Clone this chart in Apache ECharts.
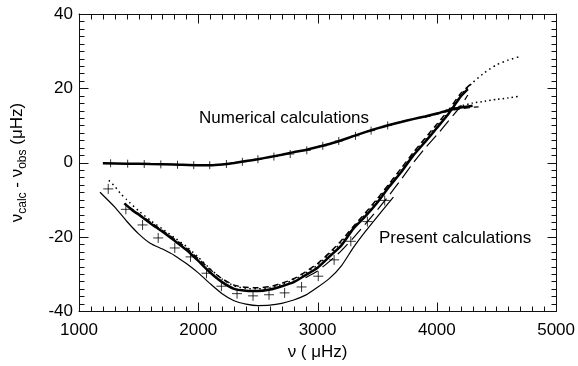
<!DOCTYPE html>
<html>
<head>
<meta charset="utf-8">
<script src="https://cdn.jsdelivr.net/npm/echarts@6/dist/echarts.min.js"></script>
<style>
  html, body { margin: 0; padding: 0; background: #fff; }
  #main { width: 578px; height: 366px; }
</style>
</head>
<body>
<div id="main"></div>
<script>
// numerical calculations (upper, nearly flat curve)
const numX = [1200, 1400, 1600, 1800, 2000, 2100, 2200, 2300, 2400, 2500, 2600, 2700, 2800, 2900, 3000, 3100, 3200, 3300, 3400, 3500, 3600, 3700, 3800, 3900, 4000, 4100, 4200, 4300];
const numY = [-0.2, -0.3, -0.4, -0.5, -0.7, -0.7, -0.5, -0.1, 0.4, 0.9, 1.5, 2.1, 2.8, 3.4, 4.2, 5.0, 6.0, 7.1, 8.2, 9.2, 10.1, 10.9, 11.7, 12.4, 13.2, 14.1, 14.8, 15.3];
const numDashX = [3900, 4000, 4100, 4200, 4280, 4350];
const numDashY = [12.2, 13.0, 13.9, 14.5, 14.8, 15.0];
const numDotX = [4000, 4100, 4200, 4300, 4400, 4500, 4600, 4680];
const numDotY = [13.3, 14.3, 15.2, 16.0, 16.5, 17.0, 17.4, 17.8];
const numCrossX = [1265, 1408, 1547, 1686, 1826, 1962, 2096, 2236, 2370, 2500, 2634, 2771, 2910, 3044, 3178, 3318, 3449, 3588];
const numCrossY = [-0.2, -0.3, -0.4, -0.5, -0.6, -0.7, -0.7, -0.4, 0.2, 0.9, 1.6, 2.3, 3.3, 4.5, 5.8, 7.2, 8.6, 10.0];

// present calculations (deep valley)
const presX = [1380, 1450, 1500, 1600, 1700, 1800, 1900, 2000, 2100, 2200, 2300, 2400, 2500, 2600, 2700, 2800, 2900, 3000, 3100, 3200, 3300, 3400, 3500, 3600, 3700, 3800, 3900, 4000, 4100, 4200, 4260];
const presY = [-11.0, -12.9, -14.0, -16.4, -18.6, -21.0, -23.5, -26.5, -29.6, -32.2, -34.0, -34.5, -34.6, -34.2, -33.3, -32.2, -30.3, -28.3, -25.3, -22.3, -17.8, -14.5, -10.8, -6.5, -2.6, 1.8, 5.5, 9.3, 13.2, 17.8, 19.8];
const presDashX = [1420, 1500, 1600, 1700, 1800, 1900, 2000, 2100, 2200, 2300, 2400, 2500, 2600, 2700, 2800, 2900, 3000, 3100, 3200, 3300, 3400, 3500, 3600, 3700, 3800, 3900, 4000, 4100, 4200, 4300];
const presDashY = [-12.0, -13.8, -16.1, -18.3, -20.6, -23.0, -25.9, -28.8, -31.3, -33.0, -33.6, -33.7, -33.4, -32.5, -31.3, -29.4, -27.2, -24.3, -21.0, -17.2, -13.6, -9.8, -5.7, -1.6, 2.6, 6.5, 10.3, 14.2, 18.6, 21.6];
const presDotX = [1250, 1300, 1350, 1400, 1500, 1600, 1700, 1800, 1900, 2000, 2100, 2200, 2300, 2400, 2500, 2600, 2700, 2800, 2900, 3000, 3100, 3200, 3300, 3400, 3500, 3600, 3700, 3800, 3900, 4000, 4100, 4200, 4300, 4400, 4500, 4600, 4690];
const presDotY = [-4.8, -6.4, -8.4, -10.0, -13.0, -15.6, -17.9, -20.2, -22.6, -25.5, -28.6, -31.4, -33.2, -33.9, -34.0, -33.7, -32.8, -31.6, -29.8, -27.6, -24.7, -21.5, -17.6, -14.0, -10.2, -6.1, -2.1, 2.2, 6.0, 9.8, 13.6, 18.2, 21.5, 24.2, 26.3, 27.6, 28.5];
const presLongX = [2900, 3000, 3100, 3200, 3300, 3400, 3500, 3600, 3700, 3800, 3900, 4000, 4090, 4200, 4260];
const presLongY = [-31.0, -29.2, -26.6, -23.7, -20.3, -16.6, -12.8, -8.8, -4.6, -0.2, 3.8, 7.4, 10.9, 15.2, 18.2];
const presLowX = [1176, 1300, 1400, 1500, 1600, 1700, 1800, 1900, 2000, 2100, 2200, 2300, 2400, 2500, 2600, 2700, 2800, 2900, 3000, 3100, 3200, 3300, 3400, 3500, 3636];
const presLowY = [-8.0, -12.0, -15.8, -19.2, -21.8, -23.3, -25.0, -27.2, -29.7, -32.6, -35.3, -37.2, -38.1, -38.5, -38.4, -37.9, -37.0, -35.7, -33.6, -31.2, -27.8, -22.9, -18.6, -14.6, -9.3];
const presCrossX = [1245, 1393, 1533, 1664, 1803, 1935, 2069, 2194, 2325, 2459, 2593, 2724, 2866, 3006, 3139, 3279, 3418, 3563];
const presCrossY = [-7.1, -12.6, -16.8, -20.3, -23.0, -25.4, -29.8, -33.3, -35.3, -35.9, -35.6, -35.1, -33.5, -30.6, -26.2, -21.2, -15.9, -10.2];

// axis ticks
const xTicks = [1000, 2000, 3000, 4000, 5000];
const yTicks = [-40, -20, 0, 20, 40];

const font = 'Liberation Sans, Arial, Helvetica, sans-serif';
const pairs = (xs, ys) => xs.map((x, i) => [x, ys[i]]);
const crossPath = 'path://M0,5L10,5M5,0L5,10';

function lineSeries(xs, ys, width, type) {
  return {
    type: 'line',
    data: pairs(xs, ys),
    showSymbol: false,
    smooth: 0.2,
    lineStyle: { color: '#000', width: width, type: type },
    z: 3
  };
}

function crossSeries(xs, ys, size) {
  return {
    type: 'scatter',
    data: pairs(xs, ys),
    symbol: crossPath,
    symbolSize: size,
    itemStyle: { color: 'rgba(0,0,0,0)', borderColor: '#000', borderWidth: 1 },
    z: 4
  };
}

function axisCommon() {
  return {
    axisLine: { show: true, onZero: false, lineStyle: { color: '#111', width: 1 } },
    axisTick: { show: false },
    minorTick: { show: false },
    splitLine: { show: false }
  };
}

const noteLabels = [
  { type: 'text', left: 199, top: 110, style: { text: 'Numerical calculations', font: '17px ' + font, fill: '#000' } },
  { type: 'text', left: 379, top: 230, style: { text: 'Present calculations', font: '17px ' + font, fill: '#000' } }
];

const chart = echarts.init(document.getElementById('main'));
chart.setOption({
  animation: false,
  backgroundColor: '#fff',
  grid: { left: 79, right: 21, top: 14, bottom: 50 },
  xAxis: [
    Object.assign({
      type: 'value', min: xTicks[0], max: xTicks[xTicks.length - 1], interval: 1000,
      name: 'ν ( μHz)', nameLocation: 'middle', nameGap: 32,
      nameTextStyle: { fontFamily: font, fontSize: 17, color: '#000' },
      axisLabel: { fontFamily: font, fontSize: 17, color: '#000', margin: 11, formatter: v => String(v) }
    }, axisCommon()),
    Object.assign({
      type: 'value', position: 'top', min: xTicks[0], max: xTicks[xTicks.length - 1], interval: 1000,
      axisLabel: { show: false }
    }, axisCommon())
  ],
  yAxis: [
    Object.assign({
      type: 'value', min: yTicks[0], max: yTicks[yTicks.length - 1], interval: 20,
      name: '{v|ν}{s|calc}{v| - ν}{s|obs}{v| (μHz)}', nameLocation: 'middle', nameGap: 50, nameRotate: 90,
      nameTextStyle: {
        fontFamily: font, color: '#000',
        rich: {
          v: { fontFamily: font, fontSize: 17, lineHeight: 24, color: '#000', verticalAlign: 'middle' },
          s: { fontFamily: font, fontSize: 12, lineHeight: 14, color: '#000', verticalAlign: 'bottom' }
        }
      },
      axisLabel: { fontFamily: font, fontSize: 17, color: '#000', margin: 6, formatter: v => String(v) }
    }, axisCommon()),
    Object.assign({
      type: 'value', position: 'right', min: yTicks[0], max: yTicks[yTicks.length - 1], interval: 20,
      axisLabel: { show: false }
    }, axisCommon())
  ],
  graphic: noteLabels,
  series: [
    lineSeries(numX, numY, 2.5, 'solid'),
    lineSeries(numDashX, numDashY, 1.2, [6, 4]),
    lineSeries(numDotX, numDotY, 1.5, [1.5, 3]),
    crossSeries(numCrossX, numCrossY, 8),
    lineSeries(presX, presY, 2.5, 'solid'),
    lineSeries(presDashX, presDashY, 1.5, [6, 4]),
    lineSeries(presDotX, presDotY, 1.5, [1.5, 3.5]),
    lineSeries(presLongX, presLongY, 1.2, [14, 6]),
    lineSeries(presLowX, presLowY, 1.2, 'solid'),
    crossSeries(presCrossX, presCrossY, 10)
  ]
});

// inward ticks on all four sides, placed with the axes' own scales
(function () {
  const toX = v => chart.convertToPixel({ xAxisIndex: 0 }, v);
  const toY = v => chart.convertToPixel({ yAxisIndex: 0 }, v);
  const gLeft = Math.round(toX(xTicks[0])) + 0.5;
  const gRight = Math.round(toX(xTicks[xTicks.length - 1])) + 0.5;
  const gBottom = Math.round(toY(yTicks[0])) + 0.5;
  const gTop = Math.round(toY(yTicks[yTicks.length - 1])) + 0.5;
  const tickStyle = { stroke: '#111', lineWidth: 1 };
  const tick = (x1, y1, x2, y2) => ({ type: 'line', silent: true, z: 5, shape: { x1: x1, y1: y1, x2: x2, y2: y2 }, style: tickStyle });
  const ticks = [];
  for (let i = 0; i <= 40; i++) {
    const px = Math.round(toX(xTicks[0] + i * 100)) + 0.5;
    const len = i % 10 === 0 ? 9 : 5;
    ticks.push(tick(px, gBottom, px, gBottom - len), tick(px, gTop, px, gTop + len));
  }
  for (let i = 0; i <= 40; i++) {
    const py = Math.round(toY(yTicks[0] + i * 2)) + 0.5;
    const len = i % 10 === 0 ? 9 : 5;
    ticks.push(tick(gLeft, py, gLeft + len, py), tick(gRight, py, gRight - len, py));
  }
  chart.setOption({ graphic: noteLabels.concat(ticks) });
})();
</script>
</body>
</html>
